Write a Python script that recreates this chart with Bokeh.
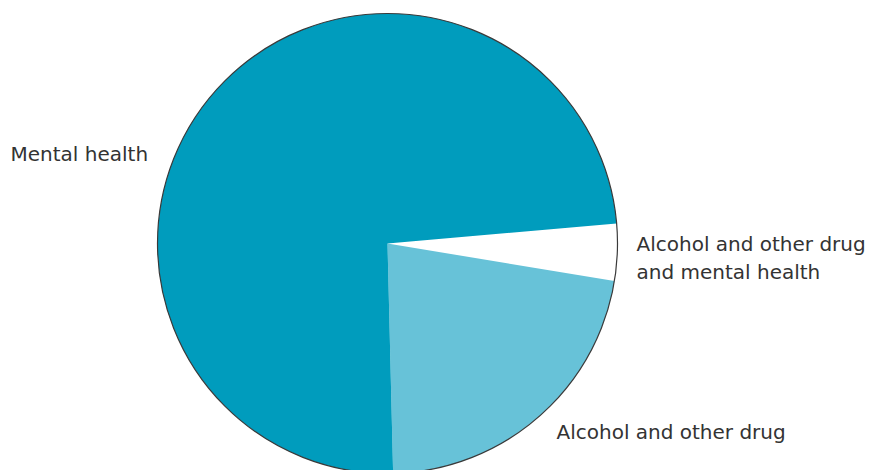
import math
from bokeh.plotting import figure
from bokeh.models import Range1d, ColumnDataSource
from bokeh.core.properties import value
from bokeh.embed import file_html
from bokeh.resources import INLINE

# Data (clockwise order from the start angle)
categories = ["Alcohol and other drug and mental health", "Alcohol and other drug", "Mental health"]
shares = [4, 22, 74]
colors = ["#ffffff", "#67c2d8", "#009cbd"]

W, H = 871, 470
p = figure(width=W, height=H, output_backend="svg", toolbar_location=None,
           x_range=Range1d(0, W), y_range=Range1d(0, H), min_border=0)
p.axis.visible = False
p.grid.visible = False
p.outline_line_color = None
p.background_fill_color = "white"

cx, cy, r = 387, H - 243, 230
start_deg = 5.0
total = float(sum(shares))
starts, ends = [], []
cum = 0.0
for s in shares:
    a0 = math.radians(start_deg) - cum / total * 2 * math.pi
    cum += s
    a1 = math.radians(start_deg) - cum / total * 2 * math.pi
    starts.append(a0)
    ends.append(a1)

src = ColumnDataSource(dict(x=[cx] * len(shares), y=[cy] * len(shares),
                            start=starts, end=ends, color=colors, cat=categories))
p.wedge(x="x", y="y", radius=r, start_angle="start", end_angle="end",
        direction="clock", fill_color="color", line_color=None, source=src)
p.circle(x=[cx], y=[cy], radius=r, fill_color=None, line_color="#3a3a3a", line_width=1.2)

# labels
label_lines = ["Mental health", "Alcohol and other drug", "and mental health", "Alcohol and other drug"]
lx = [10, 636, 636, 556]
ly = [H - 153, H - 243, H - 271, H - 431]
p.text(x=lx, y=ly, text=label_lines, text_font=value("DejaVu Sans"), text_font_size="20px",
       text_color="#333333", text_align="left", text_baseline="middle")

open("out.html", "w").write(file_html(p, INLINE))
